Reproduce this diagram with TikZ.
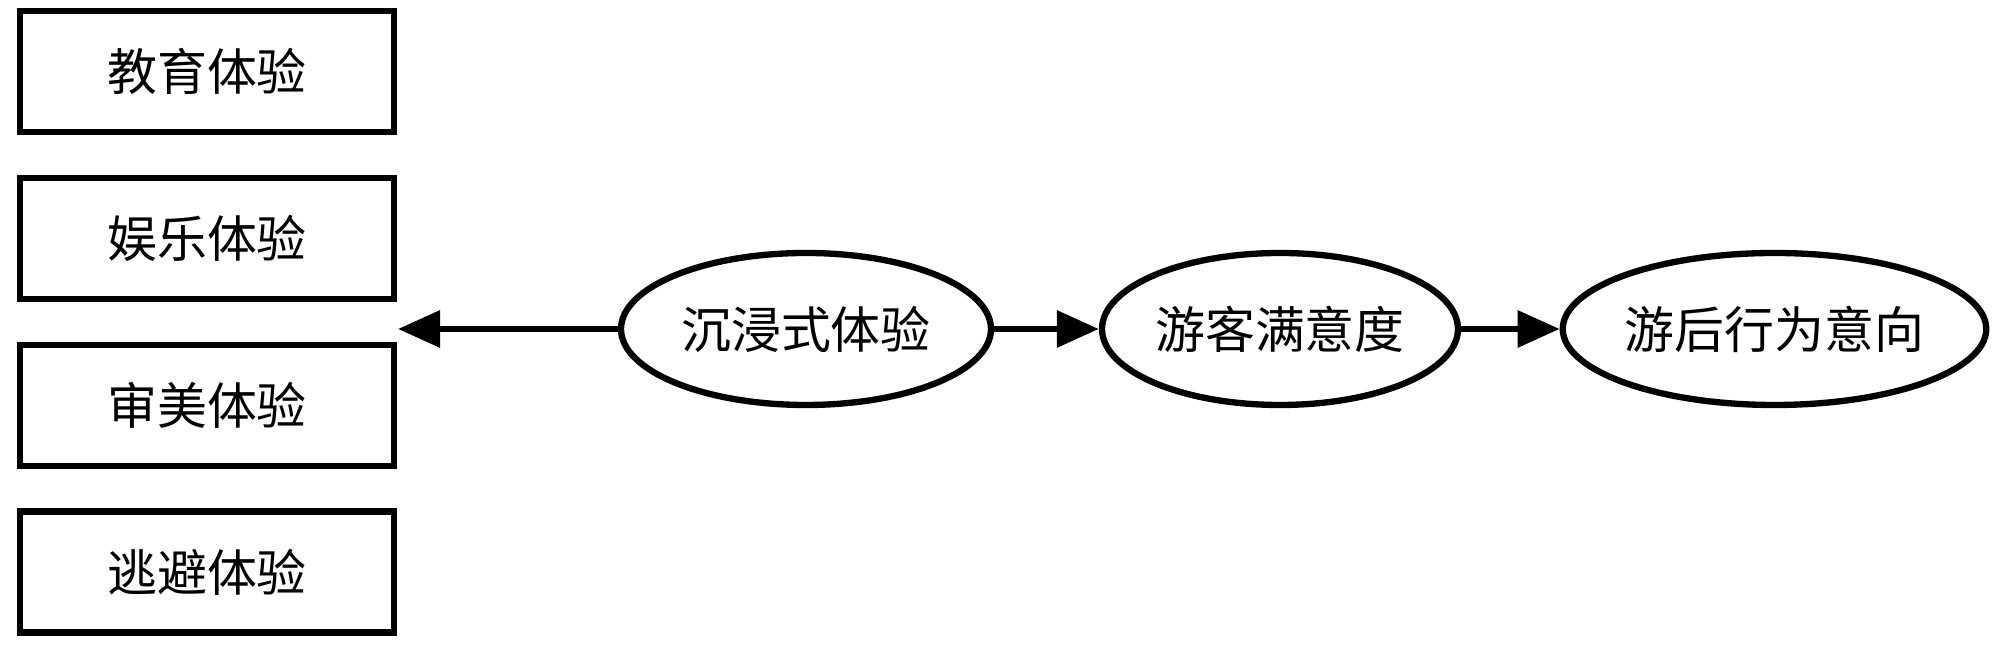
\documentclass[tikz,border=0pt]{standalone}
\usepackage{fontspec}
\setmainfont{Noto Sans CJK SC}
\usetikzlibrary{arrows.meta,positioning,shapes.geometric}
\tikzset{
  expbox/.style={draw=black, fill=white, line width=1.8pt, minimum width=3.74cm,
                 minimum height=1.21cm, inner sep=0pt, font=\fontsize{14.2}{17}\selectfont},
  stage/.style={ellipse, draw=black, fill=white, line width=1.8pt, inner sep=0pt,
                minimum height=1.52cm, font=\fontsize{14.2}{17}\selectfont},
  ar/.style={-{Triangle[length=4.2mm,width=3.6mm]}, line width=1.8pt, draw=black}
}

\begin{document}
\begin{tikzpicture}[x=1cm,y=1cm]
  \useasboundingbox (0,0) rectangle (20,-6.48);
  % four experience boxes
  \node[expbox] (edu) at (2.07,-0.715) {教育体验};
  \node[expbox] (ent) at (2.07,-2.385) {娱乐体验};
  \node[expbox] (aes) at (2.07,-4.055) {审美体验};
  \node[expbox] (esc) at (2.07,-5.72) {逃避体验};
  % chain
  \node[stage, minimum width=3.70cm] (imm) at (8.06,-3.29) {沉浸式体验};
  \node[stage, minimum width=3.56cm] (sat) at (12.80,-3.29) {游客满意度};
  \node[stage, minimum width=4.12cm] (beh) at (17.745,-3.29) {游后行为意向};
  \coordinate (tipL) at (3.98,-3.29);
  \draw[ar] (imm.west) -- (tipL);
  \draw[ar] (imm.east) -- (sat.west);
  \draw[ar] (sat.east) -- (beh.west);
\end{tikzpicture}
\end{document}
